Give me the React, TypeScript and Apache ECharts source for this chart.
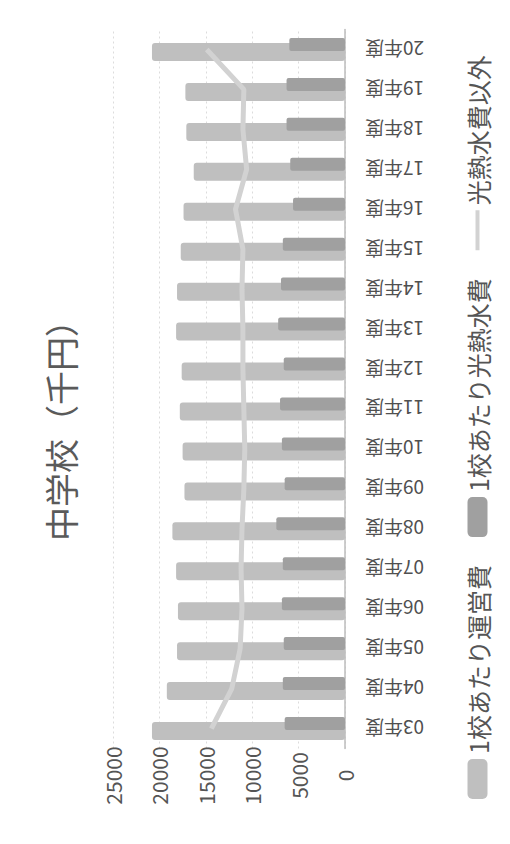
import React, { useEffect, useRef } from "react";
import * as echarts from "echarts";

const titleText = "中学校（千円）";
const categories = [
  "03年度", "04年度", "05年度", "06年度", "07年度", "08年度", "09年度", "10年度", "11年度",
  "12年度", "13年度", "14年度", "15年度", "16年度", "17年度", "18年度", "19年度", "20年度",
];
const seriesNames = ["1校あたり運営費", "1校あたり光熱水費", "光熱水費以外"];
const operatingCost = [20800, 19200, 18100, 18000, 18200, 18600, 17300, 17500, 17800, 17600, 18200, 18100, 17700, 17400, 16300, 17100, 17200, 20800];
const utilityCost = [6500, 6700, 6600, 6800, 6700, 7400, 6500, 6800, 7000, 6600, 7200, 6900, 6700, 5600, 5900, 6300, 6300, 6000];
const otherCost = [14400, 12200, 11300, 11100, 11200, 11100, 10900, 10800, 10900, 11000, 11000, 11100, 11000, 11800, 10600, 11000, 10900, 14900];
const valueMin = 0;
const valueMax = 25000;
const valueStep = 5000;

const FONT = '"Noto Sans CJK JP", "Noto Sans", sans-serif';

export default function App() {
  const ref = useRef<HTMLDivElement>(null);
  useEffect(() => {
    if (!ref.current) return;
    const chart = echarts.init(ref.current, undefined, { renderer: "svg" });
    chart.setOption({
      animation: false,
      backgroundColor: "#ffffff",
      textStyle: { fontFamily: FONT },
      title: {
        text: titleText,
        left: "center",
        top: 38,
        textStyle: { fontFamily: FONT, fontSize: 34, fontWeight: "normal", color: "#5a5a5a" },
      },
      legend: {
        data: [
          { name: seriesNames[0], icon: "roundRect" },
          { name: seriesNames[1], icon: "roundRect" },
          { name: seriesNames[2], icon: "path://M0,0 L40,0 L40,4 L0,4 Z" },
        ],
        left: 40,
        top: 460,
        itemWidth: 40,
        itemHeight: 20,
        itemGap: 28,
        textStyle: { fontFamily: FONT, fontSize: 25, color: "#555555" },
      },
      grid: { left: 95.5, right: 29.5, top: 113, bottom: 165, containLabel: false },
      xAxis: {
        type: "category",
        data: categories,
        boundaryGap: true,
        axisTick: { show: false },
        axisLine: { lineStyle: { color: "#bdbdbd", width: 1.5 } },
        axisLabel: { rotate: 90, margin: 20, fontSize: 19, color: "#505050", fontFamily: FONT },
      },
      yAxis: {
        type: "value",
        min: valueMin,
        max: valueMax,
        interval: valueStep,
        axisLine: { show: false },
        axisTick: { show: false },
        splitLine: { lineStyle: { color: "#dcdcdc", type: [2, 3], width: 1 } },
        axisLabel: {
          align: "center",
          margin: 27,
          fontSize: 21,
          color: "#555555",
          fontFamily: FONT,
          formatter: (v: number) => String(v),
        },
      },
      series: [
        {
          name: seriesNames[0],
          type: "bar",
          data: operatingCost,
          barWidth: 18,
          barGap: "-44%",
          itemStyle: { color: "#bfbfbf", borderRadius: 3 },
          z: 2,
        },
        {
          name: seriesNames[1],
          type: "bar",
          data: utilityCost,
          barWidth: 13,
          barGap: "-44%",
          itemStyle: { color: "#a0a0a0", borderRadius: 2 },
          z: 3,
        },
        {
          name: seriesNames[2],
          type: "line",
          data: otherCost,
          showSymbol: false,
          symbol: "none",
          lineStyle: { color: "#d2d2d2", width: 5 },
          itemStyle: { color: "#d2d2d2" },
          z: 4,
        },
      ],
    });
    return () => chart.dispose();
  }, []);

  return (
    <div style={{ position: "fixed", left: 0, top: 0, width: 510, height: 844, overflow: "hidden", background: "#fff" }}>
      <div
        ref={ref}
        style={{
          position: "absolute",
          width: 844,
          height: 510,
          left: (510 - 844) / 2,
          top: (844 - 510) / 2,
          transform: "rotate(-90deg)",
          transformOrigin: "50% 50%",
        }}
      />
    </div>
  );
}
